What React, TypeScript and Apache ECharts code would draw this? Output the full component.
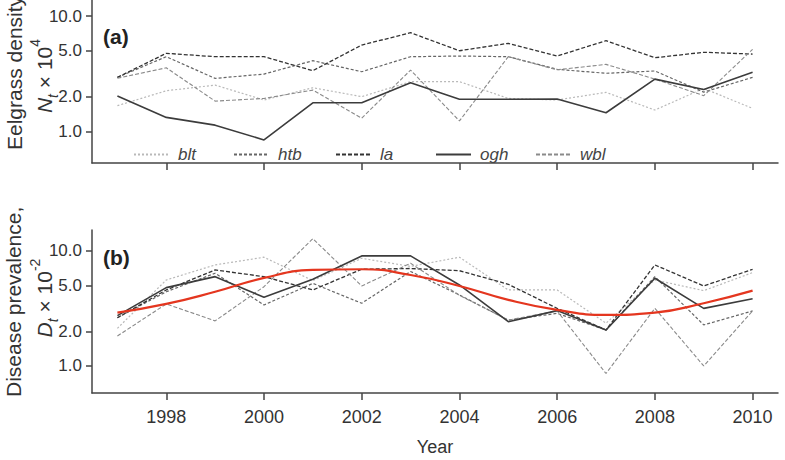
import React, { useEffect, useRef } from "react";
import * as echarts from "echarts";

// ---------- data ----------
const years = [1997, 1998, 1999, 2000, 2001, 2002, 2003, 2004, 2005, 2006, 2007, 2008, 2009, 2010];
const xTicks = [1998, 2000, 2002, 2004, 2006, 2008, 2010];
const yTicks = [1, 2, 5, 10];
const siteNames = ["blt", "htb", "la", "ogh", "wbl"];

// (a) eelgrass density N_t x 10^4
const densBlt = [1.68, 2.26, 2.53, 1.88, 2.4, 2.01, 2.71, 2.71, 1.94, 1.88, 2.19, 1.54, 2.37, 1.59];
const densHtb = [2.95, 4.45, 2.89, 3.15, 4.11, 3.3, 4.45, 4.51, 4.45, 3.46, 3.2, 3.35, 2.2, 2.95];
const densLa = [2.95, 4.76, 4.45, 4.45, 3.37, 5.61, 7.17, 5.01, 5.81, 4.51, 6.12, 4.36, 4.86, 4.69];
const densOgh = [2.04, 1.33, 1.14, 0.85, 1.78, 1.78, 2.65, 1.91, 1.91, 1.92, 1.46, 2.85, 2.32, 3.26];
const densWbl = [2.9, 3.57, 1.84, 1.94, 2.29, 1.31, 3.41, 1.24, 4.45, 3.43, 3.82, 2.85, 2.05, 5.15];

// (b) disease prevalence D_t x 10^-2
const prevBlt = [2.12, 5.57, 7.52, 8.77, 5.5, 8.58, 7.3, 8.77, 4.56, 4.56, 2.35, 5.57, 4.5, 6.45];
const prevHtb = [2.62, 4.4, 6.37, 3.38, 5.2, 3.5, 6.6, 4.13, 2.5, 2.86, 2.05, 5.95, 2.27, 3.0];
const prevLa = [2.62, 4.56, 6.8, 5.95, 4.56, 6.9, 7.0, 6.7, 5.11, 3.16, 2.05, 7.52, 4.94, 6.89];
const prevOgh = [2.73, 4.78, 5.95, 3.94, 5.64, 9.0, 9.0, 5.04, 2.42, 3.02, 2.05, 5.76, 3.16, 3.83];
const prevWbl = [1.82, 3.45, 2.46, 4.87, 12.7, 4.94, 7.77, 4.1, 2.5, 3.0, 0.86, 3.16, 1.0, 3.0];
const prevFit = [2.9, 3.45, 4.4, 5.8, 6.8, 6.9, 6.15, 4.94, 3.74, 3.06, 2.77, 2.9, 3.5, 4.5];

// ---------- styles ----------
const FONT = "'Liberation Sans', Arial, Helvetica, sans-serif";
const lineStyles: Record<string, any> = {
  blt: { color: "#b9b9b9", type: [2, 2], width: 1.2 },
  htb: { color: "#666666", type: [3, 2], width: 1.2 },
  la: { color: "#333333", type: [4, 2], width: 1.3 },
  ogh: { color: "#3c3c3c", type: "solid", width: 1.6 },
  wbl: { color: "#8a8a8a", type: [4, 2], width: 1.1 },
};
const AXIS_COLOR = "#444";

const pairs = (vals: number[]) => years.map((y, i) => [y, vals[i]]);

export default function App() {
  const ref = useRef<HTMLDivElement>(null);

  useEffect(() => {
    if (!ref.current) return;
    const chart = echarts.init(ref.current, null, { renderer: "svg" });

    const densSets = [densBlt, densHtb, densLa, densOgh, densWbl];
    const prevSets = [prevBlt, prevHtb, prevLa, prevOgh, prevWbl];

    const mkX = (gridIndex: number, showLabels: boolean) => ({
      type: "value",
      gridIndex,
      min: 1996.48,
      max: 2010.52,
      axisLine: { show: true, onZero: false, lineStyle: { color: AXIS_COLOR, width: 1.5 } },
      axisTick: { show: true, length: 7, customValues: xTicks, lineStyle: { color: AXIS_COLOR, width: 1.5 } },
      axisLabel: {
        show: showLabels,
        customValues: xTicks,
        formatter: (v: number) => String(v),
        margin: 15,
        fontSize: 18,
        color: "#333",
        fontFamily: FONT,
      },
      splitLine: { show: false },
      ...(showLabels
        ? {
            name: "Year",
            nameLocation: "middle",
            nameGap: 45,
            nameTextStyle: { fontSize: 18, color: "#333", fontFamily: FONT },
          }
        : {}),
    });

    const mkY = (gridIndex: number, min: number, max: number) => ({
      type: "log",
      logBase: 10,
      gridIndex,
      min,
      max,
      axisLine: { show: true, lineStyle: { color: AXIS_COLOR, width: 1.5 } },
      axisTick: { show: true, length: 6, customValues: yTicks, lineStyle: { color: AXIS_COLOR, width: 1.5 } },
      axisLabel: {
        customValues: yTicks,
        formatter: (v: number) => Number(v).toFixed(1),
        margin: 10,
        fontSize: 17,
        color: "#333",
        fontFamily: FONT,
      },
      minorTick: { show: false },
      splitLine: { show: false },
    });

    const series: any[] = [];
    siteNames.forEach((name, k) => {
      series.push({
        name,
        type: "line",
        xAxisIndex: 0,
        yAxisIndex: 0,
        data: pairs(densSets[k]),
        symbol: "none",
        showSymbol: false,
        itemStyle: { color: lineStyles[name].color },
        lineStyle: lineStyles[name],
        z: name === "ogh" ? 4 : 3,
      });
    });
    siteNames.forEach((name, k) => {
      series.push({
        name,
        type: "line",
        xAxisIndex: 1,
        yAxisIndex: 1,
        data: pairs(prevSets[k]),
        symbol: "none",
        showSymbol: false,
        itemStyle: { color: lineStyles[name].color },
        lineStyle: lineStyles[name],
        z: name === "ogh" ? 4 : 3,
      });
    });
    series.push({
      name: "fit",
      type: "line",
      xAxisIndex: 1,
      yAxisIndex: 1,
      data: pairs(prevFit),
      symbol: "none",
      showSymbol: false,
      smooth: 0.5,
      itemStyle: { color: "#e4361f" },
      lineStyle: { color: "#e4361f", width: 2.2, type: "solid" },
      z: 6,
    });

    const legendLefts = [128, 228, 330, 430, 530];
    const legends = siteNames.map((name, k) => ({
      data: [name],
      left: legendLefts[k],
      top: 141,
      orient: "horizontal",
      itemWidth: 35,
      itemHeight: 12,
      selectedMode: false,
      itemStyle: { opacity: 0, color: "rgba(0,0,0,0)", borderWidth: 0 },
      textStyle: {
        fontSize: 17,
        fontStyle: "italic",
        color: "#444",
        fontFamily: FONT,
        padding: [0, 0, 0, 4],
      },
    }));

    const richTitle = {
      m: { fontSize: 21, fontFamily: FONT, fill: "#333", color: "#333", lineHeight: 32 },
      i: { fontSize: 21, fontFamily: FONT, fontStyle: "italic", fill: "#333", color: "#333", lineHeight: 32 },
      sub: { fontSize: 14, fontFamily: FONT, fontStyle: "italic", fill: "#333", color: "#333", verticalAlign: "bottom" },
      sup: { fontSize: 14, fontFamily: FONT, fill: "#333", color: "#333", verticalAlign: "top" },
    };

    const rotText = (x: number, y: number, text: string, align: string, rich?: any) => ({
      type: "text",
      x,
      y,
      rotation: Math.PI / 2,
      silent: true,
      style: {
        text,
        fontSize: 21,
        fontFamily: FONT,
        fill: "#333",
        align,
        textAlign: align,
        verticalAlign: "middle",
        textVerticalAlign: "middle",
        ...(rich ? { rich } : {}),
      },
    });

    chart.setOption({
      animation: false,
      textStyle: { fontFamily: FONT },
      grid: [
        { left: 92, right: 7, top: 0, height: 163, containLabel: false },
        { left: 92, right: 7, top: 230, height: 163, containLabel: false },
      ],
      xAxis: [mkX(0, false), mkX(1, true)],
      yAxis: [mkY(0, 0.537, 13.75), mkY(1, 0.583, 15.1)],
      legend: legends,
      series,
      graphic: [
        {
          type: "text",
          left: 103,
          top: 26,
          silent: true,
          style: { text: "(a)", fontSize: 21, fontWeight: "bold", fontFamily: FONT, fill: "#222" },
        },
        {
          type: "text",
          left: 103,
          top: 247,
          silent: true,
          style: { text: "(b)", fontSize: 21, fontWeight: "bold", fontFamily: FONT, fill: "#222" },
        },
        rotText(14, 150, "Eelgrass density,", "left"),
        rotText(44, 76, "{i|N}{sub|t}{m| × 10}{sup|4}", "center", richTitle),
        rotText(13, 397, "Disease prevalence,", "left"),
        rotText(44, 298, "{i|D}{sub|t}{m| × 10}{sup|-2}", "center", richTitle),
      ],
    });

    return () => chart.dispose();
  }, []);

  return (
    <div
      ref={ref}
      style={{ position: "fixed", left: 0, top: 0, width: 785, height: 460, background: "#fff" }}
    />
  );
}
